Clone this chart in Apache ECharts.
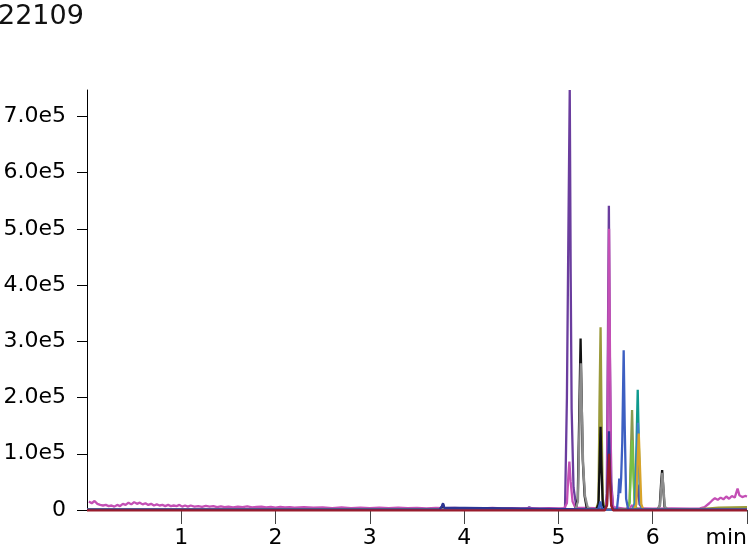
<!DOCTYPE html>
<html><head><meta charset="utf-8">
<script src="https://cdn.jsdelivr.net/npm/echarts@6/dist/echarts.min.js"></script>
<style>html,body{margin:0;padding:0;background:#fff}#c{width:750px;height:551px}</style>
</head><body><div id="c"></div>
<script>
var title = "22109";
var xTicks = [1, 2, 3, 4, 5, 6, 7];
var xTickLabels = ["1", "2", "3", "4", "5", "6", "min"];
var yTicks = [0, 100000, 200000, 300000, 400000, 500000, 600000, 700000];
var yTickLabels = ["0", "1.0e5", "2.0e5", "3.0e5", "4.0e5", "5.0e5", "6.0e5", "7.0e5"];

// [time (min), intensity]
var purple = [[0,1000],[4.66,1000],[4.69,5000],[4.71,8000],[4.73,2000],[5.0,1000],[5.07,3000],[5.09,200000],[5.105,480000],[5.12,747000],[5.13,420000],[5.14,180000],[5.16,40000],[5.19,5000],[5.22,1000],[5.5,1000],[5.513,30000],[5.525,300000],[5.535,541000],[5.545,280000],[5.56,50000],[5.58,5000],[5.62,1000],[5.8,1000],[5.82,15000],[5.84,45000],[5.86,10000],[5.9,1000],[7,1000]];
var pink = [[0.02,15000],[0.05,12000],[0.08,16000],[0.11,11000],[0.14,9000],[0.17,8000],[0.2,9000],[0.23,7000],[0.26,8000],[0.29,6000],[0.32,9000],[0.35,7000],[0.38,11000],[0.41,9000],[0.44,13000],[0.47,10000],[0.5,14000],[0.53,11000],[0.56,13000],[0.59,10000],[0.62,12000],[0.65,9000],[0.68,11000],[0.71,8000],[0.74,10000],[0.77,8000],[0.8,9000],[0.83,7000],[0.86,9000],[0.89,7000],[0.92,8000],[0.95,7000],[0.98,9000],[1.01,6000],[1.04,8000],[1.07,6000],[1.1,8000],[1.14,6000],[1.18,7000],[1.22,5500],[1.26,7500],[1.3,6000],[1.34,7000],[1.38,5000],[1.42,6500],[1.46,5000],[1.5,6000],[1.55,4500],[1.6,6000],[1.65,5000],[1.7,6500],[1.75,4500],[1.8,5500],[1.85,6000],[1.9,4500],[1.95,5500],[2.0,4000],[2.05,5500],[2.1,4500],[2.15,5000],[2.2,4000],[2.3,5000],[2.4,4000],[2.5,4500],[2.6,3500],[2.7,4500],[2.8,3500],[2.9,4000],[3.0,3500],[3.1,4200],[3.2,3300],[3.3,4000],[3.4,3200],[3.5,3800],[3.6,3000],[3.7,3800],[3.8,3200],[3.9,3600],[4.0,2800],[4.1,3500],[4.2,3000],[4.3,3600],[4.4,2800],[4.5,3300],[4.6,2800],[4.7,3200],[4.8,3000],[4.9,3400],[5.0,3000],[5.06,3000],[5.09,12000],[5.105,60000],[5.116,86000],[5.13,50000],[5.15,15000],[5.18,4000],[5.2,3000],[5.49,3000],[5.515,20000],[5.527,280000],[5.537,500000],[5.547,270000],[5.56,40000],[5.58,5000],[5.6,3000],[5.7,2500],[5.76,3000],[5.78,9000],[5.8,3000],[5.9,3000],[6.0,2500],[6.2,3000],[6.4,2500],[6.5,3000],[6.55,5000],[6.6,12000],[6.63,17000],[6.66,21000],[6.69,18000],[6.72,22000],[6.75,19000],[6.78,24000],[6.81,20000],[6.84,25000],[6.87,22000],[6.9,38000],[6.92,26000],[6.95,23000],[6.98,25000],[7.0,24000]];
var olive = [[0,1500],[5.4,1500],[5.425,15000],[5.435,180000],[5.447,325000],[5.457,170000],[5.47,20000],[5.49,1500],[6.5,1500],[6.7,4000],[7,5000]];
var black = [[0,500],[3.74,500],[3.765,6000],[3.776,10000],[3.79,3000],[3.81,500],[5.18,500],[5.205,20000],[5.222,180000],[5.235,305000],[5.246,200000],[5.258,90000],[5.278,25000],[5.3,4000],[5.33,500],[5.4,500],[5.425,10000],[5.438,90000],[5.447,148000],[5.456,80000],[5.47,10000],[5.49,500],[6.05,500],[6.075,8000],[6.09,50000],[6.1,71000],[6.11,45000],[6.125,6000],[6.15,500],[7,500]];
var gray = [[0,1500],[5.18,1500],[5.207,15000],[5.224,160000],[5.237,261000],[5.248,180000],[5.262,80000],[5.282,25000],[5.31,5000],[5.35,1500],[6.05,1500],[6.078,8000],[6.092,45000],[6.102,66000],[6.113,42000],[6.128,6000],[6.155,1500],[7,1500]];
var khaki = [[0,1000],[5.73,1000],[5.755,15000],[5.77,110000],[5.781,178000],[5.792,100000],[5.807,15000],[5.83,1000],[7,1000]];
var lime = [[0,1000],[5.73,1000],[5.755,12000],[5.77,80000],[5.782,124000],[5.794,70000],[5.809,10000],[5.83,1000],[7,1000]];
var teal = [[0,1000],[5.79,1000],[5.815,15000],[5.83,130000],[5.841,214000],[5.852,120000],[5.867,15000],[5.89,1000],[7,1000]];
var steel = [[0,1000],[5.79,1000],[5.816,12000],[5.831,95000],[5.843,155000],[5.855,85000],[5.87,10000],[5.89,1000],[7,1000]];
var gold = [[0,1000],[5.8,1000],[5.826,10000],[5.84,85000],[5.852,136000],[5.864,80000],[5.879,10000],[5.9,1000],[7,1000]];
var blue = [[0,800],[5.42,800],[5.435,8000],[5.445,15000],[5.455,6000],[5.47,800],[5.62,800],[5.635,25000],[5.645,56000],[5.655,30000],[5.665,56000],[5.677,120000],[5.692,284000],[5.703,150000],[5.718,20000],[5.74,800],[7,800]];
var navy = [[0,800],[3.74,800],[3.765,7000],[3.776,12000],[3.79,4000],[3.81,800],[5.49,800],[5.515,10000],[5.526,80000],[5.536,140000],[5.546,75000],[5.56,10000],[5.58,800],[7,800]];
var darkred = [[0,-800],[5.49,-800],[5.515,8000],[5.526,60000],[5.537,100000],[5.547,55000],[5.56,8000],[5.58,-800],[7,-800]];

var FONT = "DejaVu Sans";
function mk(name, data, color) {
  return {name: name, type: 'line', data: data, showSymbol: false, symbol: 'none', clip: false,
    lineStyle: {color: color, width: 2.3}, itemStyle: {color: color}, silent: true, animation: false};
}
var chart = echarts.init(document.getElementById('c'), null, {renderer: 'canvas'});
chart.setOption({
  animation: false,
  backgroundColor: '#fff',
  title: {text: title, left: -2, top: 3, padding: 0, textStyle: {fontFamily: FONT, fontSize: 27, fontWeight: 'normal', color: '#111'}},
  grid: {left: 87, right: 1, top: 90, bottom: 41, containLabel: false},
  xAxis: {type: 'value', min: 0, max: 7, interval: 1,
    axisLine: {show: true, lineStyle: {color: '#000', width: 1}},
    axisTick: {show: true, length: 14, customValues: xTicks, lineStyle: {color: '#444'}},
    axisLabel: {customValues: xTicks, margin: 17, fontFamily: FONT, fontSize: 22, color: '#000',
      alignMaxLabel: 'right',
      formatter: function (v) { var i = xTicks.indexOf(Math.round(v)); return i >= 0 ? xTickLabels[i] : ''; }},
    splitLine: {show: false}},
  yAxis: {type: 'value', min: 0, max: 747000, interval: 100000,
    axisLine: {show: true, lineStyle: {color: '#000', width: 1}},
    axisTick: {show: true, length: 10, customValues: yTicks, lineStyle: {color: '#000'}},
    axisLabel: {customValues: yTicks, margin: 21, fontFamily: FONT, fontSize: 22, color: '#000',
      formatter: function (v) { var i = yTicks.indexOf(Math.round(v)); return i >= 0 ? yTickLabels[i] : ''; }},
    splitLine: {show: false}},
  series: [
    mk('purple', purple, '#6a3d9e'),
    mk('pink', pink, '#c44fb5'),
    mk('olive', olive, '#9a9a3a'),
    mk('black', black, '#111111'),
    mk('gray', gray, '#8c8c8c'),
    mk('khaki', khaki, '#8a9a50'),
    mk('lime', lime, '#78c044'),
    mk('teal', teal, '#0e9a8e'),
    mk('steel', steel, '#3f7fc6'),
    mk('gold', gold, '#d8a42a'),
    mk('blue', blue, '#3d5fc2'),
    mk('navy', navy, '#2d3594'),
    mk('darkred', darkred, '#9a1c2c')
  ]
});
</script></body></html>
